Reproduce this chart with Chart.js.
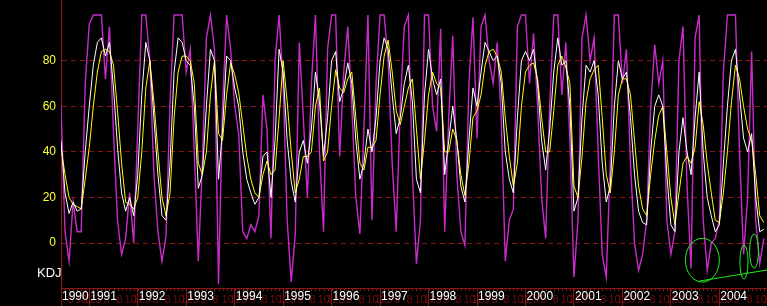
<!DOCTYPE html>
<html>
<head>
<meta charset="UTF-8">
<title>KDJ</title>
<script src="https://cdn.jsdelivr.net/npm/chart.js"></script>
<style>
    body { margin: 0; background: #000; }
    .wrap { width: 767px; height: 306px; position: relative; background: #000; }
</style>
</head>
<body>
<div class="wrap"><canvas id="kdj"></canvas></div>
<script>
// monthly samples, first one is June 1990
const firstYear = 1990, firstMonth = 6;
const yearTicks = [1990, 1991, 1992, 1993, 1994, 1995, 1996, 1997, 1998, 1999, 2000, 2001, 2002, 2003, 2004];
const yTicks = [0, 20, 40, 60, 80];

const K = [45,22,13,18,14,15,40,60,78,88, 90,82,88,68,42,22,14,20,12,30,
           65,88,80,55,30,12,10,35,75,90, 88,80,78,60,24,30,60,85,80,28,
           50,82,80,68,60,40,28,22,17,20, 38,40,20,45,85,75,45,27,18,40,
           45,35,50,75,62,38,55,80,84,62, 68,79,70,45,28,35,50,40,55,80,
           90,85,65,48,55,70,78,62,28,22, 65,85,72,65,72,30,45,60,45,25,
           18,45,68,60,75,88,84,80,82,70, 40,28,22,55,80,84,80,85,70,45,
           32,50,75,90,78,80,60,14,20,55, 78,75,80,65,35,18,25,60,80,72,
           75,55,30,14,9,8,40,60,65,60, 30,8,5,40,55,40,30,55,75,40,
           20,12,5,8,35,60,80,85,65,46, 40,48,20,5,6];
const D = [42,30,20,17,16,15,28,42,60,75, 84,85,84,78,58,35,18,17,15,20,
           40,68,80,62,40,20,12,22,55,75, 82,82,80,70,35,30,40,65,80,48,
           45,65,79,74,66,52,38,28,22,20, 30,36,30,32,55,80,62,40,22,28,
           38,38,40,60,68,36,40,60,76,68, 66,72,75,55,35,32,42,42,45,65,
           82,89,75,58,52,60,68,72,50,28, 45,65,75,70,68,40,40,50,45,30,
           21,35,55,58,65,78,84,85,82,75, 55,38,25,35,60,75,78,79,72,55,
           40,40,58,78,82,77,70,25,20,38, 62,72,76,78,55,30,22,40,65,72,
           72,65,45,25,15,12,30,45,56,60, 40,20,8,22,35,38,35,42,62,52,
           35,22,10,9,22,40,62,78,72,60, 50,45,30,12,9];
const J = [60,5,-8,18,5,5,70,96,100,100, 100,72,95,48,10,-5,2,22,0,50,
           100,100,80,30,5,-8,3,62,100,100, 100,75,85,40,-8,35,90,100,85,-18,
           60,100,85,60,48,5,2,8,5,12, 65,50,2,80,100,70,10,-17,4,88,
           55,20,70,100,40,5,85,100,100,38, 75,95,60,20,4,50,100,10,70,100,
           100,80,35,5,60,95,100,30,-9,10, 100,100,60,49,94,5,55,91,30,5,
           -1,70,99,46,95,100,80,70,88,55, -8,10,15,95,100,100,70,92,60,20,
           2,60,100,100,65,88,45,-15,10,90, 100,80,90,40,-5,-15,35,100,100,70,
           85,35,0,-12,-5,10,60,87,70,80, 10,-5,5,80,95,25,-11,90,100,10,
           -12,0,2,10,75,100,100,100,40,-5, 20,84,10,-9,2];

// hand drawn marks near the end, in month index / value units
const circles = [
    { x: 158.8, y: -7.5, rx: 4.2, ry: 9.6 },
    { x: 169.1, y: -8.3, rx: 1.0, ry: 7.5 },
    { x: 171.6, y: -3.5, rx: 1.1, ry: 7.5 }
];
const trend = [{ x: 158.0, y: -16.7 }, { x: 174.8, y: -11.8 }];

const monthIdx = year => (year - firstYear) * 12 - (firstMonth - 1);
const pts = arr => arr.map((v, i) => ({ x: i, y: v }));

const darkRed = '#8c1414';

const extras = {
    id: 'extras',
    afterDraw(chart) {
        const ctx = chart.ctx, xs = chart.scales.x, ys = chart.scales.y;
        const area = chart.chartArea;
        ctx.save();
        // small month marks in the date band
        ctx.fillStyle = '#6e0c0c';
        ctx.strokeStyle = darkRed;
        ctx.lineWidth = 1;
        ctx.font = '11px "Liberation Sans"';
        ctx.textBaseline = 'top';
        for (let i = 0; i <= 174; i++) {
            const m = (firstMonth - 1 + i) % 12 + 1;
            const px = Math.round(xs.getPixelForValue(i)) + 0.5;
            ctx.beginPath();
            ctx.moveTo(px, area.bottom);
            ctx.lineTo(px, area.bottom + 3);
            ctx.stroke();
            if ([3, 5, 8, 10, 12].includes(m)) ctx.fillText(String(m), px - 2, area.bottom + 6);
        }
        // years on top of the month numbers
        ctx.fillStyle = '#ffffff';
        ctx.font = '12px "Liberation Sans"';
        ctx.textBaseline = 'top';
        yearTicks.forEach(y => {
            const px = Math.max(area.left + 1, xs.getPixelForValue(monthIdx(y)) + 1);
            ctx.fillText(String(y), px, area.bottom + 3);
        });
        // KDJ caption
        ctx.font = '13px "Liberation Sans"';
        ctx.textBaseline = 'middle';
        ctx.fillText('KDJ', 37, 273);
        // green marks
        ctx.strokeStyle = '#22ee22';
        circles.forEach(c => {
            const cx = xs.getPixelForValue(c.x), cy = ys.getPixelForValue(c.y);
            const rx = Math.abs(xs.getPixelForValue(c.x + c.rx) - cx);
            const ry = Math.abs(ys.getPixelForValue(c.y + c.ry) - cy);
            ctx.beginPath();
            ctx.ellipse(cx, cy, rx, ry, 0, 0, Math.PI * 2);
            ctx.stroke();
        });
        ctx.beginPath();
        ctx.moveTo(xs.getPixelForValue(trend[0].x), ys.getPixelForValue(trend[0].y));
        ctx.lineTo(xs.getPixelForValue(trend[1].x), ys.getPixelForValue(trend[1].y));
        ctx.stroke();
        ctx.restore();
    }
};

new Chart(document.getElementById('kdj'), {
    type: 'line',
    data: {
        datasets: [
            { label: 'K', data: pts(K), borderColor: '#ffffff', borderWidth: 1 },
            { label: 'D', data: pts(D), borderColor: '#ffff00', borderWidth: 1 },
            { label: 'J', data: pts(J), borderColor: '#c82cc8', borderWidth: 1.4 }
        ]
    },
    options: {
        responsive: true,
        maintainAspectRatio: false,
        animation: false,
        layout: { padding: 0 },
        elements: { point: { radius: 0 }, line: { tension: 0 } },
        plugins: { legend: { display: false }, tooltip: { enabled: false } },
        scales: {
            x: {
                type: 'linear',
                min: 0,
                max: 174.8,
                afterBuildTicks: s => { s.ticks = yearTicks.map(y => ({ value: Math.max(0, monthIdx(y)) })); },
                afterFit: s => { s.height = 18; s.paddingLeft = 0; s.paddingRight = 0; },
                ticks: { display: false },
                grid: { drawOnChartArea: false, color: darkRed, tickLength: 18 },
                border: { color: darkRed }
            },
            y: {
                min: -19.7,
                max: 106.6,
                afterBuildTicks: s => { s.ticks = yTicks.map(v => ({ value: v })); },
                afterFit: s => { s.width = 61; s.paddingTop = 0; s.paddingBottom = 0; },
                ticks: { color: '#ffff33', font: { family: 'Liberation Sans', size: 12 }, padding: 5 },
                grid: { color: darkRed, drawTicks: false },
                border: { color: '#a01818', dash: [5, 4] }
            }
        }
    },
    plugins: [extras]
});
</script>
</body>
</html>
